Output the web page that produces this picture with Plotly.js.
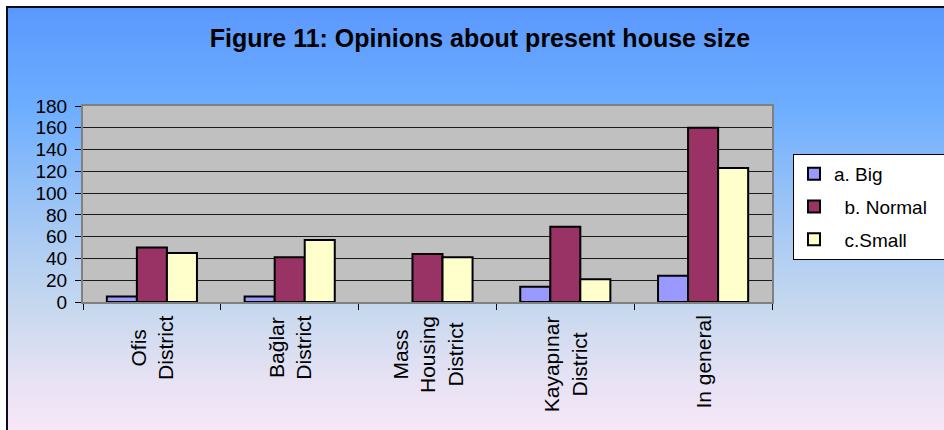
<!DOCTYPE html>
<html>
<head>
<meta charset="utf-8">
<script src="https://cdn.plot.ly/plotly-3.0.1.min.js"></script>
<style>
  html, body { margin: 0; padding: 0; background: #ffffff; }
  #bg { position: absolute; left: 6px; top: 6px; width: 960px; height: 440px;
        border-left: 2px solid #0b0b1e; border-top: 2px solid #0b0b1e;
        background: linear-gradient(to bottom, #5b98fd 0%, #6cadff 22%, #a6c9f4 50%, #c6d8ee 68%, #e6e2f4 84%, #fde8f8 100%); }
  #chart { position: absolute; left: 0; top: 0; width: 944px; height: 430px; }
</style>
</head>
<body>
<div id="bg"></div>
<div id="chart"></div>
<script>
const categories = ["Ofis<br>District", "Bağlar<br>District", "Mass<br>Housing<br>District", "Kayapınar<br>District", "In general"];
const seriesNames = ["a. Big", "\u00a0\u00a0b. Normal", "\u00a0\u00a0c.Small"];
const bigValues = [5, 5, 0, 14, 24];
const normalValues = [50, 41, 44, 69, 160];
const smallValues = [45, 57, 41, 21, 123];
const yTicks = [0, 20, 40, 60, 80, 100, 120, 140, 160, 180];

const colors = ["#9999ff", "#993366", "#ffffcc"];
const allValues = [bigValues, normalValues, smallValues];

const traces = allValues.map((vals, i) => ({
  type: "bar",
  name: seriesNames[i] + "\u00a0\u00a0\u00a0",
  legendgroup: "g" + i,
  x: categories,
  y: vals,
  marker: { color: colors[i], line: { color: "#000000", width: vals.map(v => v === 0 ? 0 : 2) } },
  hoverinfo: "x+y+name"
}));

const annotations = categories.map(c => ({
  x: c, xref: "x", y: 0, yref: "paper",
  yanchor: "top", xanchor: "center", yshift: -12,
  text: c, textangle: -90, align: "center", showarrow: false,
  font: { family: "Liberation Sans, Arial, sans-serif", size: 21, color: "#000000" }
}));

const layout = {
  width: 944, height: 430,
  paper_bgcolor: "rgba(0,0,0,0)",
  plot_bgcolor: "#c0c0c0",
  margin: { l: 83, r: 172, t: 106, b: 128, pad: 0, autoexpand: false },
  font: { family: "Liberation Sans, Arial, sans-serif", color: "#000000" },
  title: {
    text: "<b>Figure 11: Opinions about present house size</b>",
    font: { family: "Liberation Sans, Arial, sans-serif", size: 25, color: "#000000" },
    x: 480 / 944, xanchor: "center", xref: "container",
    y: 1 - 38 / 430, yanchor: "middle", yref: "container"
  },
  barmode: "group",
  bargap: 0.346,
  bargroupgap: 0,
  showlegend: true,
  legend: {
    x: (793 - 83) / 689, xanchor: "left",
    y: (302 - 154) / 196, yanchor: "top",
    bgcolor: "#ffffff", bordercolor: "#000000", borderwidth: 1,
    font: { family: "Liberation Sans, Arial, sans-serif", size: 19, color: "#000000" },
    tracegroupgap: 5,
    traceorder: "grouped"
  },
  xaxis: {
    type: "category",
    categoryarray: categories,
    showticklabels: false,
    ticks: "outside", tickson: "boundaries", ticklen: 6, tickcolor: "#000000", tickwidth: 1,
    showline: true, linecolor: "#808080", linewidth: 2, mirror: true,
    showgrid: false, zeroline: false, fixedrange: true
  },
  yaxis: {
    range: [0, 180],
    tickvals: yTicks,
    ticktext: yTicks.map(String),
    ticks: "outside", ticklen: 6, tickcolor: "#000000", tickwidth: 1,
    ticklabelstandoff: 4,
    tickfont: { family: "Liberation Sans, Arial, sans-serif", size: 19, color: "#000000" },
    showline: true, linecolor: "#808080", linewidth: 2, mirror: true,
    showgrid: true, gridcolor: "#1a1a1a", gridwidth: 1,
    zeroline: false, fixedrange: true
  },
  annotations: annotations
};

Plotly.newPlot("chart", traces, layout, { displayModeBar: false, staticPlot: true });
</script>
</body>
</html>
